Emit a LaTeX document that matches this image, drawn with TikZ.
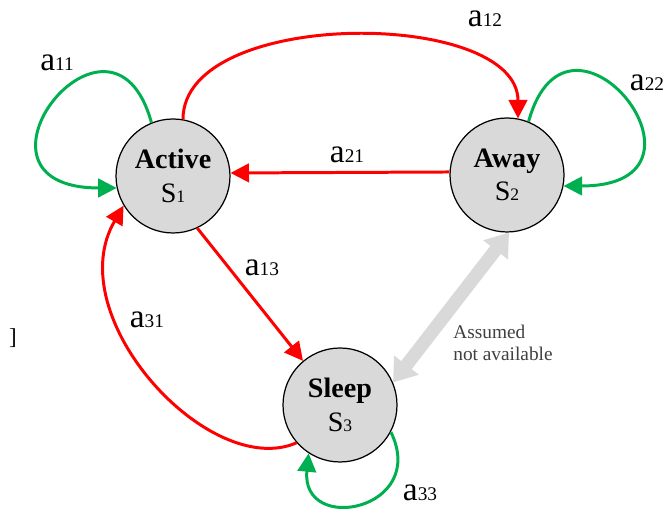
\documentclass[tikz,border=0pt]{standalone}
\usepackage{fontspec}
\setmainfont{Liberation Serif}
\usetikzlibrary{arrows.meta}
\definecolor{edgered}{RGB}{255,0,0}
\definecolor{selfgreen}{RGB}{0,176,80}
\definecolor{stategray}{RGB}{217,217,217}
\definecolor{notegray}{RGB}{64,64,64}
\tikzset{
state/.style={
	  draw, circle, fill=stategray, line width=0.7pt,
	    minimum size=2.28cm, inner sep=0pt, align=center,
	    font=\fontsize{16}{19}\selectfont},
trans/.style={draw=edgered, line width=1.7pt,
	-{Triangle[length=10.5pt,width=10.5pt]}},
stay/.style={draw=selfgreen, line width=1.7pt,
	-{Triangle[length=10.5pt,width=10.5pt]}},
blocked/.style={draw=stategray, line width=7.5pt,
	{Triangle[length=12.5pt,width=17pt]}-{Triangle[length=12.5pt,width=17pt]}}
}
\newcommand{\aij}[1]{{\fontsize{19}{20}\selectfont a}{\fontsize{11}{12}\selectfont #1}}
\newcommand{\sidx}[1]{S{\fontsize{10}{12}\selectfont #1}}

\begin{document}
\begin{tikzpicture}[x=0.02cm, y=0.02cm]
	\useasboundingbox (0,0) rectangle (665,516);
	\node[state] (act) at (173,340) {\textbf{Active}\\\sidx{1}};
	\node[state] (away) at (507,341) {\textbf{Away}\\\sidx{2}};
	\node[state] (slp) at (340,111) {\textbf{Sleep}\\\sidx{3}};
	\draw[blocked] (slp.23) -- (away.272);
	\draw[stay] (act.112) .. controls +(-40,145) and +(-170,0) .. (act.192);
	\draw[stay] (away.68) .. controls +(40,145) and +(170,0) .. (away.349);
	\draw[stay] (slp.332) .. controls +(38,-78) and +(-8,-82) .. (slp.237);
	\draw[trans] (act.80) .. controls +(0,112) and +(0,110) .. (away.79);
	\draw[trans] (away.177) -- (act.3);
	\draw[trans] (act.295) -- (slp.130);
	\draw[trans] (slp.221) .. controls +(-87,-38) and +(-65,-111) .. (act.211);
	\node (l11) at (57,453) {\aij{11}};
	\node (l12) at (485,497) {\aij{12}};
	\node (l21) at (347,361) {\aij{21}};
	\node (l22) at (647,433) {\aij{22}};
	\node (l13) at (262,248) {\aij{13}};
	\node (l31) at (147,196) {\aij{31}};
	\node (l33) at (420,23) {\aij{33}};
	\node[align=left, anchor=west, inner sep=0pt, text=notegray,
		font=\fontsize{11}{12.5}\selectfont] (note) at (453,173) {Assumed\\not available};
	\node[font=\fontsize{13}{14}\selectfont] (brk) at (13,178) {]};
\end{tikzpicture}
\end{document}
